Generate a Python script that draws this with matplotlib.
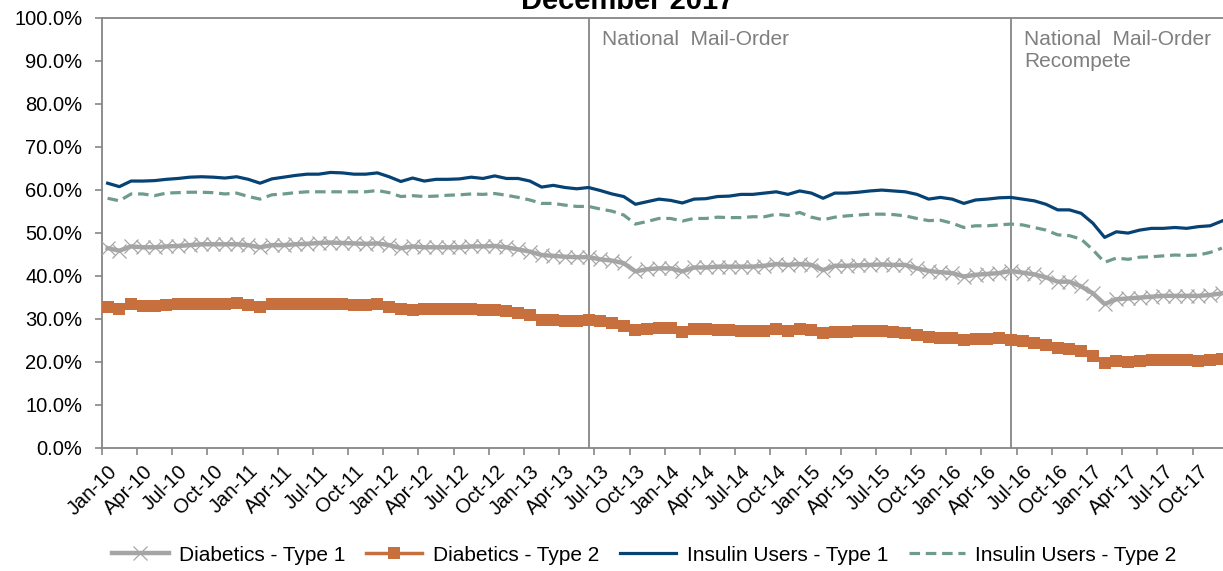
import matplotlib
matplotlib.use("Agg")
import matplotlib.pyplot as plt
from matplotlib.ticker import FixedLocator

plt.rcParams['font.family'] = ['Liberation Sans', 'DejaVu Sans']

# Monthly share of beneficiaries, Jan-2010 .. Dec-2017 (percent)
years = ['10', '11', '12', '13', '14', '15', '16', '17']
months = ['Jan', 'Feb', 'Mar', 'Apr', 'May', 'Jun',
          'Jul', 'Aug', 'Sep', 'Oct', 'Nov', 'Dec']
periods = [f"{m}-{y}" for y in years for m in months]

diabetics_t1 = [
    46.4, 45.8, 46.8, 46.6, 46.6, 46.8, 46.9, 47.1, 47.3, 47.3, 47.3, 47.3,
    47.1, 46.6, 47.1, 47.1, 47.3, 47.4, 47.6, 47.7, 47.6, 47.5, 47.4, 47.5,
    47.1, 46.4, 46.8, 46.6, 46.6, 46.6, 46.6, 46.8, 46.8, 46.9, 46.6, 46.1,
    45.6, 44.8, 44.6, 44.4, 44.3, 44.3, 43.8, 43.5, 42.9, 41.0, 41.5, 41.7,
    41.7, 41.0, 41.9, 41.9, 42.1, 42.1, 42.1, 42.1, 42.3, 42.7, 42.5, 42.7,
    42.5, 41.3, 42.3, 42.3, 42.4, 42.5, 42.6, 42.5, 42.5, 41.7, 41.1, 40.8,
    40.6, 39.8, 40.2, 40.4, 40.6, 41.1, 40.7, 40.3, 39.6, 38.6, 38.6, 37.5,
    35.9, 33.4, 34.5, 34.7, 34.9, 35.1, 35.3, 35.3, 35.3, 35.3, 35.5, 35.9,
]
diabetics_t2 = [
    32.8, 32.2, 33.3, 33.0, 32.9, 33.2, 33.3, 33.5, 33.5, 33.5, 33.5, 33.7,
    33.2, 32.7, 33.3, 33.3, 33.4, 33.5, 33.4, 33.4, 33.4, 33.2, 33.1, 33.3,
    32.8, 32.2, 32.0, 32.2, 32.3, 32.2, 32.3, 32.3, 32.1, 32.0, 31.8, 31.4,
    30.8, 29.8, 29.7, 29.4, 29.4, 29.7, 29.4, 29.0, 28.3, 27.3, 27.6, 27.8,
    27.8, 27.0, 27.6, 27.5, 27.4, 27.4, 27.2, 27.2, 27.2, 27.5, 27.2, 27.7,
    27.4, 26.6, 27.0, 27.0, 27.2, 27.2, 27.2, 27.0, 26.6, 26.2, 25.8, 25.6,
    25.4, 25.1, 25.2, 25.3, 25.4, 25.1, 24.7, 24.3, 23.9, 23.1, 22.9, 22.4,
    21.4, 19.6, 20.1, 20.0, 20.2, 20.3, 20.4, 20.3, 20.3, 20.2, 20.3, 20.7,
]
insulin_t1 = [
    61.5, 60.7, 62.0, 62.0, 62.1, 62.4, 62.6, 62.9, 63.0, 62.9, 62.7, 63.0,
    62.4, 61.5, 62.5, 62.9, 63.3, 63.6, 63.6, 64.0, 63.9, 63.6, 63.6, 63.9,
    63.0, 61.9, 62.7, 62.0, 62.4, 62.4, 62.5, 62.9, 62.6, 63.2, 62.6, 62.6,
    62.0, 60.6, 61.0, 60.5, 60.2, 60.5, 59.8, 59.0, 58.4, 56.6, 57.2, 57.8,
    57.5, 56.9, 57.8, 57.9, 58.4, 58.5, 58.9, 58.9, 59.2, 59.5, 58.9, 59.7,
    59.2, 58.0, 59.2, 59.2, 59.4, 59.7, 59.9, 59.7, 59.5, 58.9, 57.8, 58.2,
    57.8, 56.8, 57.6, 57.8, 58.1, 58.2, 57.8, 57.4, 56.6, 55.3, 55.3, 54.5,
    52.2, 48.9, 50.2, 49.9, 50.6, 51.0, 51.0, 51.2, 51.0, 51.4, 51.6, 52.7,
]
insulin_t2 = [
    58.0, 57.4, 59.0, 59.0, 58.6, 59.2, 59.3, 59.4, 59.4, 59.3, 59.0, 59.2,
    58.4, 57.8, 58.8, 59.0, 59.3, 59.5, 59.5, 59.5, 59.5, 59.5, 59.5, 59.8,
    59.3, 58.4, 58.6, 58.4, 58.5, 58.7, 58.8, 59.0, 58.9, 59.1, 58.7, 58.2,
    57.6, 56.8, 56.8, 56.4, 56.1, 56.1, 55.5, 55.0, 54.1, 52.0, 52.6, 53.3,
    53.3, 52.7, 53.3, 53.3, 53.6, 53.5, 53.5, 53.7, 53.7, 54.3, 54.0, 54.7,
    53.6, 53.0, 53.6, 53.9, 54.1, 54.3, 54.3, 54.2, 53.9, 53.3, 52.8, 52.9,
    52.2, 51.2, 51.6, 51.6, 51.8, 52.0, 51.8, 51.2, 50.6, 49.5, 49.3, 48.5,
    46.0, 43.1, 44.1, 43.8, 44.3, 44.4, 44.6, 44.8, 44.7, 44.8, 45.4, 46.4,
]

events = [("Jun-13", "National  Mail-Order"),
          ("Jun-16", "National  Mail-Order\nRecompete")]

AXIS_GREY = '#868686'
FS = 14.5
x = list(range(len(periods)))

fig = plt.figure(figsize=(12.23, 5.71), dpi=100)
ax = fig.add_axes([0.0832, 0.216, 0.9207, 0.7531])

ax.plot(x, diabetics_t1, color='#A5A5A5', lw=3.2, marker='x', ms=9.5,
        mew=0.9, mec='#A6A6A6', label='Diabetics - Type 1', zorder=3)
ax.plot(x, diabetics_t2, color='#C7703D', lw=2.5, marker='s', ms=9,
        mew=0, mfc='#C7703D', label='Diabetics - Type 2', zorder=3)
ax.plot(x, insulin_t1, color='#064273', lw=2.3,
        label='Insulin Users - Type 1', zorder=3)
ax.plot(x, insulin_t2, color='#6E9B8D', lw=2.3, ls=(0, (3.3, 1.8)),
        label='Insulin Users - Type 2', zorder=3)

for per, txt in events:
    xi = periods.index(per)
    ax.axvline(xi, color=AXIS_GREY, lw=1.3, zorder=2)
    ax.text(xi + 1.15, 97.2, txt, color='#7F7F7F', fontsize=15,
            ha='left', va='top', linespacing=1.25)

ax.set_xlim(-0.5, len(periods) - 0.5)
ax.set_ylim(0, 100)

ax.set_yticks(range(0, 101, 10))
ax.set_yticklabels([f"{v:.1f}%" for v in range(0, 101, 10)])
ax.tick_params(axis='y', direction='out', length=5, width=1.2,
               color=AXIS_GREY, pad=9, labelsize=FS, labelcolor='black')

# tick marks between category groups, labels on every third month
ax.xaxis.set_major_locator(FixedLocator([i - 0.5 for i in range(0, len(periods) + 1, 3)]))
ax.set_xticklabels([])
lab_pos = list(range(0, len(periods), 3))
ax.set_xticks(lab_pos, minor=True)
ax.set_xticklabels([periods[i] for i in lab_pos], minor=True,
                   rotation=45, ha='right', rotation_mode='anchor')
ax.tick_params(axis='x', which='major', direction='out', length=5,
               width=1.2, color=AXIS_GREY)
ax.tick_params(axis='x', which='minor', length=0, pad=10, labelsize=FS)

for s in ax.spines.values():
    s.set_color(AXIS_GREY)
    s.set_linewidth(1.3)

fig.text(0.5135, 1 - 9.3 / 571, "December 2017", ha='center',
         va='baseline', fontsize=21, fontweight='bold')

fig.legend(loc='center', bbox_to_anchor=(0.527, 0.028), ncol=4,
           frameon=False, fontsize=15, handlelength=2.7,
           handletextpad=0.5, columnspacing=1.0)

fig.savefig('out.png', dpi=100)
